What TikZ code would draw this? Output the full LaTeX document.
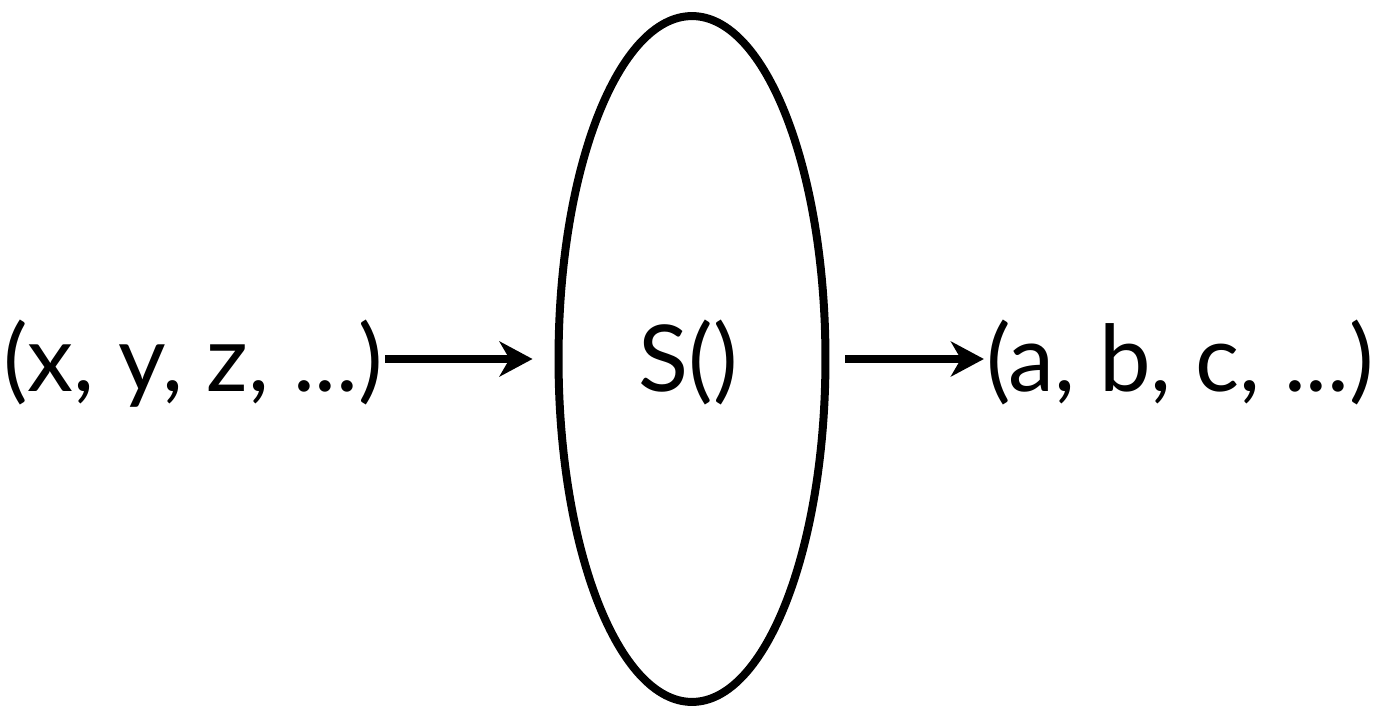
\documentclass[tikz,border=0pt]{standalone}
\usepackage{fontspec}
\setmainfont{Lato}
\usetikzlibrary{arrows.meta,positioning,shapes.geometric}

\tikzset{
	tuple/.style={inner sep=1pt, anchor=base, font=\fontsize{52.5}{58}\selectfont},
	sysbox/.style={draw, ellipse, line width=0.16cm, inner sep=0pt,
		minimum width=5.34cm, minimum height=13.72cm},
	arr/.style={line width=0.16cm, -{Stealth[length=0.66cm,width=0.7cm,inset=0.2cm]}}
}

\begin{document}
\begin{tikzpicture}[x=0.02cm,y=0.02cm]
		\useasboundingbox (0,0) rectangle (1380,711);
		\node[sysbox] (sys) at (692,352) {};
		\node[tuple] (sname) at (688,319) {S()};
		\node[tuple] (in) at (193,319) {(x, y, z, ...)};
		\node[tuple] (out) at (1180,319) {(a, b, c, ...)};
		\draw[arr, shorten >=0.44cm] (in.east |- sys.west) -- (sys.west);
		\draw[arr, shorten <=0.32cm] (sys.east) -- (out.west |- sys.east);
	\end{tikzpicture}
\end{document}
